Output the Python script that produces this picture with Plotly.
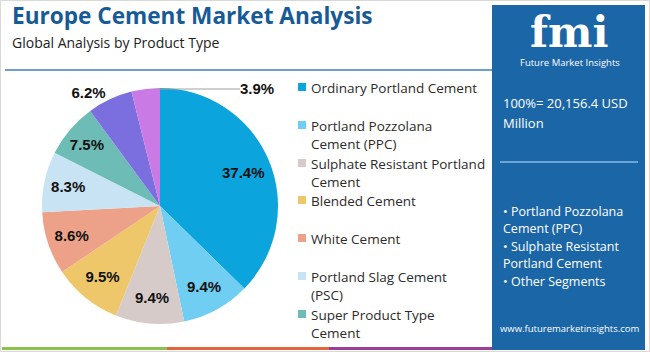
import plotly.graph_objects as go

# ---------------- data ----------------
categories = [
    "Ordinary Portland Cement",
    "Portland Pozzolana Cement (PPC)",
    "Sulphate Resistant Portland Cement",
    "Blended Cement",
    "White Cement",
    "Portland Slag Cement (PSC)",
    "Super Product Type Cement",
    "Rapid Hardening Cement",
    "Others",
]
shares = [37.4, 9.4, 9.4, 9.5, 8.6, 8.3, 7.5, 6.2, 3.9]
colors = ["#0ba4dc", "#6fcef2", "#d6cbc9", "#eec76a", "#eda189",
          "#c8e3f4", "#6dbdb6", "#7b6fe0", "#c97ae5"]
legend_labels = [
    "Ordinary Portland Cement",
    "Portland Pozzolana<br>Cement (PPC)",
    "Sulphate Resistant Portland<br>Cement",
    "Blended Cement",
    "White Cement",
    "Portland Slag Cement<br>(PSC)",
    "Super Product Type<br>Cement",
]
panel_bullets = ["• Portland Pozzolana", "Cement (PPC)", "• Sulphate Resistant",
                 "Portland Cement", "• Other Segments"]
total_text = ["100%= 20,156.4 USD", "Million"]

W, H = 650, 352
def px(x):
    return x / W
def py(y):
    return 1 - y / H

LABEL_FONT = dict(family="Liberation Sans, Arial", size=15, color="#111111", weight="bold")

# slices whose labels are placed by annotation (largest slice and the small top slice)
annotated = {0: (243, 172), 8: (257, 88)}
slice_text = ["" if i in annotated else f"{v:.1f}%" for i, v in enumerate(shares)]
text_positions = ["inside"] * 7 + ["outside", "none"]

fig = go.Figure()
fig.add_trace(go.Pie(
    labels=categories,
    values=shares,
    text=slice_text,
    sort=False,
    direction="clockwise",
    rotation=0,
    marker=dict(colors=colors, line=dict(width=0)),
    texttemplate="%{text}",
    textposition=text_positions,
    insidetextorientation="horizontal",
    textfont=LABEL_FONT,
    outsidetextfont=LABEL_FONT,
    domain=dict(x=[px(42), px(278)], y=[py(324), py(88)]),
    showlegend=False,
    hoverinfo="label+percent",
))

shapes = []
annotations = []

for i, (ax, ay) in annotated.items():
    annotations.append(dict(text=f"<b>{shares[i]:.1f}%</b>", xref="paper", yref="paper",
                            x=px(ax), y=py(ay), xanchor="center", yanchor="middle",
                            showarrow=False, font=LABEL_FONT))
# leader line for the small top slice
shapes.append(dict(type="line", xref="paper", yref="paper", x0=px(158), x1=px(240),
                   y0=py(89), y1=py(89), line=dict(color="#a0a0a0", width=1)))

# outer border
shapes.append(dict(type="rect", xref="paper", yref="paper", x0=px(0.5), x1=px(649.5),
                   y0=py(351.5), y1=py(0.5), line=dict(color="#d9d9d9", width=1)))
# right panel
shapes.append(dict(type="rect", xref="paper", yref="paper", x0=px(492), x1=px(645),
                   y0=py(350), y1=py(5), fillcolor="#1b66a6", line=dict(width=0), layer="below"))
# divider under title
shapes.append(dict(type="line", xref="paper", yref="paper", x0=px(5), x1=px(492),
                   y0=py(70), y1=py(70), line=dict(color="#3f7fc0", width=1.5)))
# panel divider
shapes.append(dict(type="line", xref="paper", yref="paper", x0=px(500), x1=px(638),
                   y0=py(162), y1=py(162), line=dict(color="#8dbbe3", width=1.5)))
# bottom colour strip
for x0, x1, c in [(2, 167, "#8bc34a"), (167, 329, "#e8623a"), (329, 492, "#9c3d96")]:
    shapes.append(dict(type="rect", xref="paper", yref="paper", x0=px(x0), x1=px(x1),
                       y0=py(350), y1=py(347), fillcolor=c, line=dict(width=0)))

# title & subtitle
annotations.append(dict(text="<b>Europe Cement Market Analysis</b>", xref="paper", yref="paper",
                        x=px(11), y=py(16), xanchor="left", yanchor="middle", showarrow=False,
                        borderpad=0,
                        font=dict(family="Open Sans", size=22.6, color="#175b96")))
annotations.append(dict(text="Global Analysis by Product Type", xref="paper", yref="paper",
                        x=px(11), y=py(42), xanchor="left", yanchor="middle", showarrow=False,
                        borderpad=0,
                        font=dict(family="Open Sans", size=14, color="#222222")))

# legend (manual)
leg_y = [87, 125, 163, 200, 238, 276, 314]
for i, lab in enumerate(legend_labels):
    y = leg_y[i]
    shapes.append(dict(type="rect", xref="paper", yref="paper", x0=px(298), x1=px(306),
                       y0=py(y + 4), y1=py(y - 4), fillcolor=colors[i], line=dict(width=0)))
    annotations.append(dict(text=lab, xref="paper", yref="paper", x=px(309), y=py(y - 10),
                            xanchor="left", yanchor="top", align="left", showarrow=False,
                            font=dict(family="Open Sans", size=13.5, color="#2b2b2b")))

# logo
annotations.append(dict(text="<b>fmi</b>", xref="paper", yref="paper", x=px(569), y=py(32),
                        xanchor="center", yanchor="middle", showarrow=False,
                        font=dict(family="DejaVu Serif", size=42, color="white")))
annotations.append(dict(text="Future Market Insights", xref="paper", yref="paper", x=px(570), y=py(63),
                        xanchor="center", yanchor="middle", showarrow=False,
                        font=dict(family="Open Sans", size=9.5, color="white")))

# panel texts
for i, t in enumerate(total_text):
    annotations.append(dict(text=t, xref="paper", yref="paper", x=px(501), y=py(103 + 20 * i),
                            xanchor="left", yanchor="middle", showarrow=False,
                            font=dict(family="Open Sans", size=13, color="white")))
for i, t in enumerate(panel_bullets):
    annotations.append(dict(text=t, xref="paper", yref="paper", x=px(501), y=py(211 + 17.5 * i),
                            xanchor="left", yanchor="middle", showarrow=False,
                            font=dict(family="Open Sans", size=12.5, color="white")))
annotations.append(dict(text="www.futuremarketinsights.com", xref="paper", yref="paper",
                        x=px(570), y=py(328), xanchor="center", yanchor="middle", showarrow=False,
                        font=dict(family="Open Sans", size=9.5, color="white")))

fig.update_layout(
    width=W, height=H,
    margin=dict(l=0, r=0, t=0, b=0),
    paper_bgcolor="white",
    plot_bgcolor="white",
    shapes=shapes,
    annotations=annotations,
)

fig.write_html("out.html")
